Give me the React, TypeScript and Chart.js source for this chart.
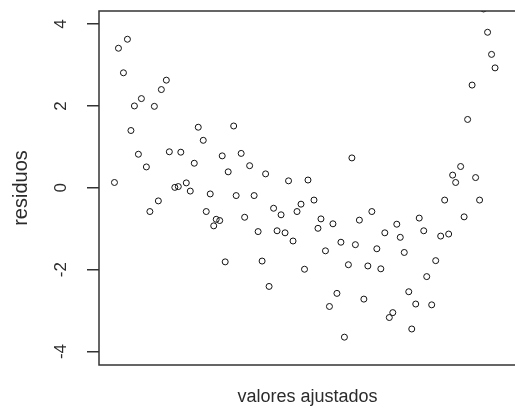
import React, { useEffect, useRef } from "react";
import { Chart, registerables } from "chart.js";

Chart.register(...registerables);

// fitted values (arbitrary units; x axis shows no tick labels)
const fittedValues: number[] = [
  0.57, 0.39, 0.49, 1.35, 1.25, 0.85, 0.71, 1.11, 0.64, 1.99,
  2.09, 0.79, 1.41, 1.64, 0.95, 1.91, 2.47, 2.59, 0.31, 1.52,
  1.59, 1.75, 1.83, 1.19, 1.02, 2.23, 2.15, 2.35, 2.30, 2.53,
  2.70, 2.85, 3.02, 3.34, 3.80, 4.19, 5.07, 7.71, 7.79, 7.87,
  7.94, 7.48, 7.39, 7.25, 7.09, 7.15, 7.55, 2.75, 3.11, 3.50,
  3.65, 3.97, 4.05, 4.31, 2.92, 2.42, 3.19, 3.57, 3.73, 3.89,
  4.45, 4.69, 4.39, 5.22, 4.85, 5.14, 4.54, 3.27, 4.12, 5.00,
  3.41, 4.77, 4.62, 4.92, 6.93, 7.63, 7.32, 5.47, 5.97, 6.42,
  5.73, 6.04, 6.51, 6.85, 7.01, 5.57, 6.12, 5.39, 5.65, 6.75,
  6.57, 5.31, 6.21, 6.35, 6.67, 5.89, 5.82, 6.27,
];

const residuals: number[] = [
  3.63, 3.41, 2.81, 2.63, 2.40, 2.18, 2.00, 1.99, 1.40, 1.48,
  1.16, 0.82, 0.88, 0.87, 0.51, 0.60, 0.78, 0.39, 0.13, 0.01,
  0.03, 0.12, -0.08, -0.32, -0.58, -0.15, -0.58, -0.77, -0.93, -1.81,
  1.51, 0.84, 0.54, 0.34, 0.17, 0.19, 0.73, 4.37, 3.80, 3.26,
  2.93, 2.51, 1.67, 0.52, 0.31, 0.13, 0.25, -0.19, -0.19, -0.50,
  -0.66, -0.58, -0.40, -0.30, -0.72, -0.80, -1.07, -1.05, -1.10, -1.30,
  -0.76, -0.88, -0.99, -0.79, -1.33, -1.39, -1.54, -1.79, -1.99, -1.88,
  -2.41, -2.58, -2.90, -3.65, -0.30, -0.30, -0.71, -0.58, -0.89, -0.74,
  -1.10, -1.21, -1.05, -1.18, -1.13, -1.49, -1.58, -1.91, -1.98, -1.78,
  -2.17, -2.72, -2.54, -2.84, -2.86, -3.05, -3.17, -3.45,
];

const yTickValues: number[] = [-4, -2, 0, 2, 4];
const xTitle = "valores ajustados";
const yTitle = "residuos";
const xLimits: number[] = [0, 8.36];
const yLimits: number[] = [-4.33, 4.32];

const FONT = "'Liberation Sans', Arial, sans-serif";
const INK = "#2b2b2b";

const boxPlugin = {
  id: "rBox",
  afterDatasetsDraw(chart: any) {
    const { ctx, chartArea } = chart;
    const { left, top, right, bottom } = chartArea;
    ctx.save();
    ctx.strokeStyle = "#333";
    ctx.lineWidth = 1.5;
    ctx.strokeRect(left, top, right - left, bottom - top);
    ctx.restore();
  },
};

export default function App() {
  const canvasRef = useRef<HTMLCanvasElement | null>(null);

  useEffect(() => {
    const canvas = canvasRef.current;
    if (!canvas) return;
    const points = fittedValues.map((x, i) => ({ x, y: residuals[i] }));
    const chart = new Chart(canvas, {
      type: "scatter",
      data: {
        datasets: [
          {
            label: "residuos",
            data: points,
            pointRadius: 3,
            pointHoverRadius: 3,
            pointBorderWidth: 1,
            pointBorderColor: "#111",
            pointBackgroundColor: "rgba(0,0,0,0)",
            clip: 0,
          } as any,
        ],
      },
      options: {
        responsive: false,
        devicePixelRatio: 1,
        animation: false,
        layout: { padding: { top: 11, right: 3, left: 0, bottom: 0 } },
        plugins: {
          legend: { display: false },
          tooltip: { enabled: false },
        },
        scales: {
          x: {
            type: "linear",
            min: xLimits[0],
            max: xLimits[1],
            grid: { display: false },
            border: { display: false },
            ticks: { display: false },
            title: {
              display: true,
              text: xTitle,
              color: INK,
              font: { family: FONT, size: 18 },
              padding: { top: 0, bottom: 0 },
            },
            afterFit: (scale: any) => {
              scale.height = 43;
              scale.paddingLeft = 0;
              scale.paddingRight = 0;
            },
          },
          y: {
            type: "linear",
            min: yLimits[0],
            max: yLimits[1],
            afterBuildTicks: (scale: any) => {
              scale.ticks = yTickValues.map((v) => ({ value: v }));
            },
            grid: {
              drawOnChartArea: false,
              drawTicks: true,
              tickLength: 12,
              color: "#333",
              lineWidth: 1.5,
            },
            border: { display: false },
            ticks: {
              minRotation: 90,
              maxRotation: 90,
              crossAlign: "center",
              padding: 18,
              color: INK,
              font: { family: FONT, size: 17 },
              callback: (v: any) => String(v),
            },
            title: {
              display: true,
              text: yTitle,
              color: INK,
              font: { family: FONT, size: 20 },
              padding: { top: 9, bottom: 0 },
            },
            afterFit: (scale: any) => {
              scale.width = 99;
              scale.paddingTop = 0;
              scale.paddingBottom = 0;
            },
          },
        },
      },
      plugins: [boxPlugin],
    });
    return () => chart.destroy();
  }, []);

  return (
    <div
      style={{
        position: "fixed",
        left: 0,
        top: 0,
        width: 515,
        height: 408,
        overflow: "hidden",
        background: "#fff",
      }}
    >
      <canvas
        ref={canvasRef}
        width={520}
        height={408}
        style={{ display: "block", width: 520, height: 408 }}
      />
    </div>
  );
}
